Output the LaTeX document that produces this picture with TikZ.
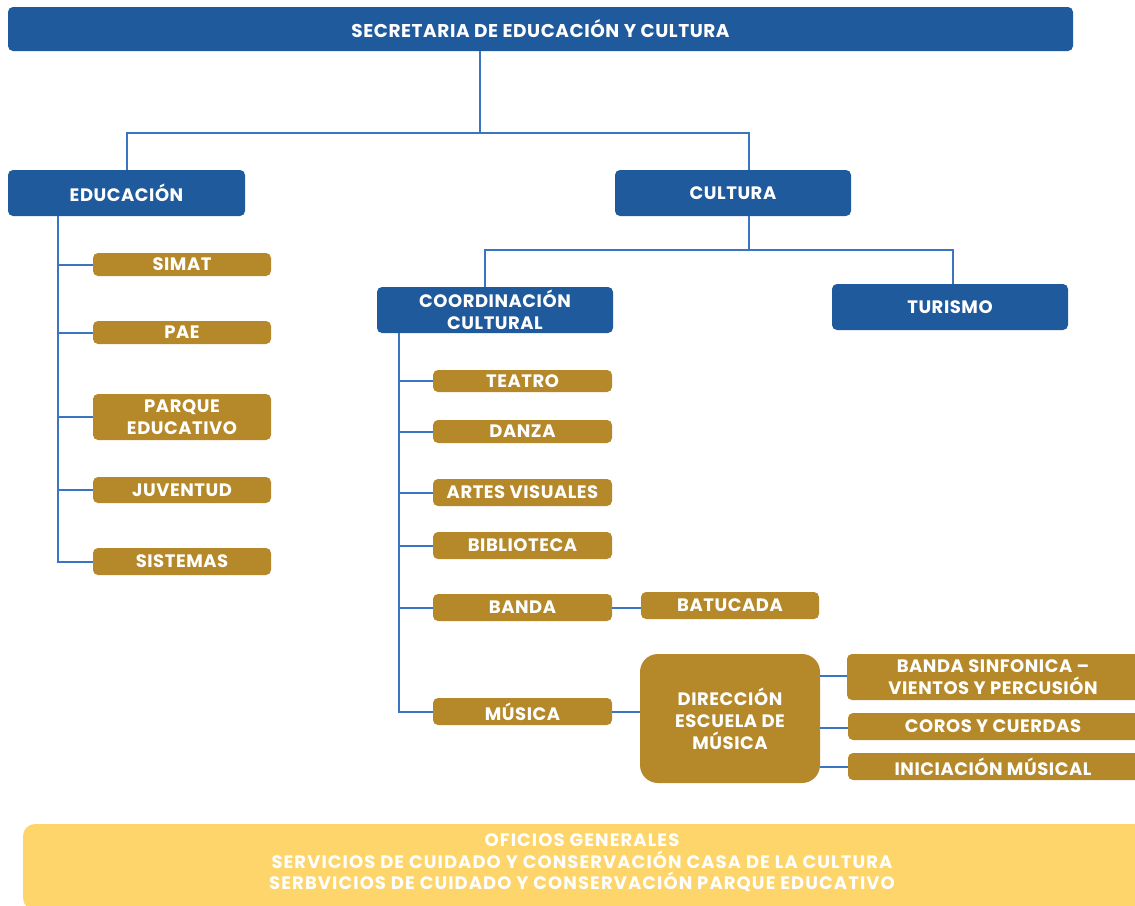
\documentclass[tikz,border=0pt]{standalone}
\usepackage{fontspec}
\setmainfont{Poppins}[LetterSpace=3]
\newfontfamily\widefont{Poppins}[LetterSpace=6]
\definecolor{bluebox}{HTML}{1F5A9C}
\definecolor{goldbox}{HTML}{B5892A}
\definecolor{linkc}{HTML}{3B74C1}
\definecolor{yelbox}{HTML}{FDD56B}
\begin{document}
\begin{tikzpicture}[x=1pt,y=-1pt,
  base/.style={inner sep=0pt,outer sep=0pt,rounded corners=5pt,text=white,align=center,
    font=\bfseries\fontsize{18}{22}\selectfont},
  bluenode/.style={base,fill=bluebox},
  goldnode/.style={base,fill=goldbox},
  link/.style={draw=linkc,line width=2pt}]
\useasboundingbox (0,0) rectangle (1135,905);
% top
\node[bluenode,minimum width=1065pt,minimum height=44pt,font=\bfseries\fontsize{18.5}{22}\selectfont] (top) at (540.5,29) {SECRETARIA DE EDUCACIÓN Y CULTURA};
\node[bluenode,minimum width=237pt,minimum height=46pt] (edu) at (126.5,193) {EDUCACIÓN};
\node[bluenode,minimum width=236pt,minimum height=46pt] (cul) at (733,193) {CULTURA};
\node[bluenode,minimum width=236pt,minimum height=46pt] (coord) at (495,310) {COORDINACIÓN\\CULTURAL};
\node[bluenode,minimum width=236pt,minimum height=46pt] (tur) at (950,307) {TURISMO};
% education children
\node[goldnode,minimum width=178pt,minimum height=23pt] (simat) at (182,264.5) {SIMAT};
\node[goldnode,minimum width=178pt,minimum height=23pt] (pae) at (182,332.5) {PAE};
\node[goldnode,minimum width=178pt,minimum height=46pt] (parque) at (182,417) {PARQUE\\EDUCATIVO};
\node[goldnode,minimum width=178pt,minimum height=26pt] (juv) at (182,490) {JUVENTUD};
\node[goldnode,minimum width=178pt,minimum height=27pt] (sis) at (182,561.5) {SISTEMAS};
% culture children
\node[goldnode,minimum width=179pt,minimum height=22pt] (teatro) at (522.5,381) {TEATRO};
\node[goldnode,minimum width=179pt,minimum height=23pt] (danza) at (522.5,431.5) {DANZA};
\node[goldnode,minimum width=179pt,minimum height=27pt] (artes) at (522.5,492.5) {ARTES VISUALES};
\node[goldnode,minimum width=179pt,minimum height=27pt] (biblio) at (522.5,545.5) {BIBLIOTECA};
\node[goldnode,minimum width=179pt,minimum height=27pt] (banda) at (522.5,607.5) {BANDA};
\node[goldnode,minimum width=179pt,minimum height=27pt] (musica) at (522.5,711.5) {MÚSICA};
\node[goldnode,minimum width=178pt,minimum height=27pt] (batucada) at (730,605.5) {BATUCADA};
\node[goldnode,minimum width=180pt,minimum height=129pt,rounded corners=18pt] (dir) at (730,718.5) {DIRECCIÓN\\ESCUELA DE\\MÚSICA};
\node[goldnode,minimum width=300pt,minimum height=46pt] (sinf) at (997,677) {};
\node[text=white,align=center,font=\bfseries\fontsize{18}{22}\selectfont] (sinft) at (993,677) {BANDA SINFONICA –\\VIENTOS Y PERCUSIÓN};
\node[goldnode,minimum width=300pt,minimum height=27pt] (coros) at (998,726.5) {};
\node[text=white,font=\bfseries\fontsize{18}{22}\selectfont] (corost) at (993,726.5) {COROS Y CUERDAS};
\node[goldnode,minimum width=300pt,minimum height=27pt] (inic) at (998,766.5) {};
\node[text=white,font=\bfseries\fontsize{18}{22}\selectfont] (inict) at (993,766.5) {INICIACIÓN MÚSICAL};
% bottom
\node[base,fill=yelbox,minimum width=1130pt,minimum height=86pt,rounded corners=12pt] (bottom) at (588,867) {};
\node[text=white,align=center,font=\widefont\bfseries\fontsize{18}{21.5}\selectfont] (bottomt) at (582,863) {OFICIOS GENERALES\\SERVICIOS DE CUIDADO Y CONSERVACIÓN CASA DE LA CULTURA\\SERBVICIOS DE CUIDADO Y CONSERVACIÓN PARQUE EDUCATIVO};
% connectors top
\coordinate (j1) at (480,133);
\coordinate (jc) at (749,133);
\draw[link] (top.south -| j1) -- (j1);
\draw[link] (edu.north) -- (edu.north |- j1) -- (jc) -- (jc |- cul.north);
% culture split
\coordinate (j2) at (749,250);
\coordinate (jco) at (485,250);
\coordinate (jtu) at (953,250);
\draw[link] (cul.south -| j2) -- (j2);
\draw[link] (jco |- coord.north) -- (jco) -- (jtu) -- (jtu |- tur.north);
% education spine
\coordinate (es) at (58,561.5);
\draw[link] (edu.south -| es) -- (es) -- (sis.west);
\foreach \n in {simat,pae,parque,juv}{\draw[link] (\n.west -| es) -- (\n.west);}
% culture spine
\coordinate (cs) at (399,711.5);
\draw[link] (coord.south -| cs) -- (cs) -- (musica.west);
\foreach \n in {teatro,danza,artes,biblio,banda}{\draw[link] (\n.west -| cs) -- (\n.west);}
\draw[link] (banda.east) -- (batucada.west |- banda.east);
\draw[link] (musica.east) -- (dir.west |- musica.east);
\draw[link] (dir.east |- sinf.west) ++(0,-1) coordinate (d1) (d1) -- (d1 -| sinf.west);
\draw[link] (dir.east |- coros.west) ++(0,1.5) coordinate (d2) (d2) -- (d2 -| coros.west);
\draw[link] (dir.east |- inic.west) ++(0,0.5) coordinate (d3) (d3) -- (d3 -| inic.west);
\end{tikzpicture}
\end{document}
